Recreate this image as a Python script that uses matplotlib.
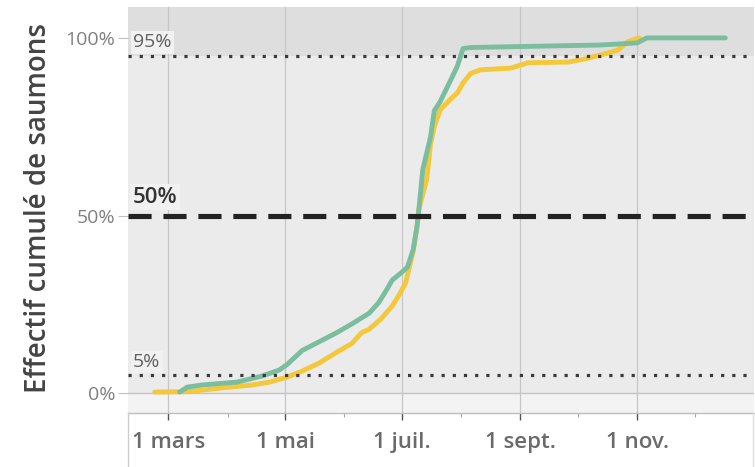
import matplotlib
matplotlib.use("Agg")
import matplotlib.pyplot as plt
from matplotlib.lines import Line2D
import datetime as dt

plt.rcParams['font.family'] = ['Open Sans', 'DejaVu Sans']

YEAR = 2021

# ---- data ----
green_dates = ["03-07", "03-11", "03-19", "04-06", "04-19", "04-28", "05-02", "05-10",
               "05-19", "05-28", "06-05", "06-14", "06-19", "06-23", "06-26", "07-01",
               "07-04", "07-07", "07-09", "07-10", "07-12", "07-16", "07-18", "07-21",
               "07-26", "07-30", "08-02", "08-06", "10-13", "11-01", "11-06", "12-17"]
green_pct = [0.3, 1.7, 2.3, 3.1, 4.8, 6.5, 8.0, 12.0,
             14.5, 17.0, 19.5, 22.5, 25.5, 29.0, 31.8, 34.0,
             35.5, 40.5, 47.0, 52.0, 63.0, 72.0, 79.5, 82.0,
             87.5, 92.0, 97.0, 97.3, 98.0, 98.6, 100.0, 100.0]

yellow_dates = ["02-22", "03-11", "03-28", "04-14", "04-23", "05-02", "05-10", "05-19",
                "05-28", "06-05", "06-10", "06-14", "06-20", "06-26", "06-30", "07-03",
                "07-07", "07-09", "07-10", "07-14", "07-16", "07-18", "07-21", "07-26",
                "07-30", "08-02", "08-06", "08-11", "08-27", "09-05", "09-26", "10-04",
                "10-13", "10-22", "10-27", "11-02"]
yellow_pct = [0.3, 0.4, 1.4, 2.3, 3.1, 4.5, 6.2, 8.5,
              11.5, 14.0, 17.0, 18.0, 20.8, 24.5, 28.0, 31.0,
              40.0, 47.0, 52.0, 60.0, 70.0, 75.0, 79.7, 82.5,
              84.5, 87.3, 90.0, 91.0, 91.5, 93.0, 93.2, 94.0,
              95.2, 96.6, 98.9, 100.0]

ref_levels = [5, 50, 95]
ref_labels = ["5%", "50%", "95%"]
ytick_vals = [0, 50, 100]
ytick_labels = ["0%", "50%", "100%"]
xtick_months = [3, 5, 7, 9, 11]
xtick_labels = ["1 mars", "1 mai", "1 juil.", "1 sept.", "1 nov."]
minor_months = [4, 6, 8, 10, 12]


def to_dates(lst):
    return [dt.datetime(YEAR, int(s[:2]), int(s[3:])) for s in lst]


W, H = 755, 467
fig = plt.figure(figsize=(W / 100, H / 100), dpi=100)
L, R, T, B = 128, 754, 7, 413
ax = fig.add_axes([L / W, 1 - B / H, (R - L) / W, (B - T) / H])

ymin, ymax = -5.6, 108.7
ax.set_ylim(ymin, ymax)
ax.set_xlim(dt.datetime(YEAR, 2, 8), dt.datetime(YEAR + 1, 1, 1))

ax.set_facecolor('#ebebeb')
ax.axhspan(95, ymax, color='#dedede', zorder=0, lw=0)
ax.axhspan(ymin, 0, color='#f3f3f3', zorder=0, lw=0)
ax.axhline(0, color='#c4c4c4', lw=1.0, zorder=1)

# vertical gridlines
for m in xtick_months:
    ax.axvline(dt.datetime(YEAR, m, 1), color='#c6c6c6', lw=0.9, zorder=1)

# curves
ax.plot(to_dates(yellow_dates), yellow_pct, color='#f3c83a', lw=3.5,
        solid_capstyle='round', solid_joinstyle='round', zorder=3)
ax.plot(to_dates(green_dates), green_pct, color='#7bbd9f', lw=3.5,
        solid_capstyle='round', solid_joinstyle='round', zorder=4)

# reference lines
ax.axhline(ref_levels[0], color='#3a3a3a', lw=2.3, ls=(0, (1.0, 2.5)), zorder=5)
ax.axhline(ref_levels[2], color='#3a3a3a', lw=2.3, ls=(0, (1.0, 2.5)), zorder=5)
ax.axhline(ref_levels[1], color='#222222', lw=3.7, ls=(0, (4.5, 2.3)), zorder=5)

box = dict(boxstyle='square,pad=0.12', fc='#f1f1f1', ec='none')
yt = ax.get_yaxis_transform()
ax.text(0.008, ref_levels[0] + 1.2, ref_labels[0], transform=yt,
        fontsize=14, color='#606060', ha='left', va='bottom', bbox=box, zorder=6)
ax.text(0.008, ref_levels[2] + 1.2, ref_labels[2], transform=yt,
        fontsize=14, color='#606060', ha='left', va='bottom', bbox=box, zorder=6)
ax.text(0.008, ref_levels[1] + 2.2, ref_labels[1], transform=yt,
        fontsize=16, color='#333333', ha='left', va='bottom', fontweight='semibold',
        bbox=box, zorder=6)

# y axis
ax.set_yticks(ytick_vals)
ax.set_yticklabels(ytick_labels)
ax.tick_params(axis='y', length=7, width=0.8, color='#c0c0c0', labelsize=14,
               labelcolor='#808080', pad=2)
ax.set_ylabel("Effectif cumulé de saumons", fontsize=20, color='#444444',
              fontweight='semibold')
ax.yaxis.set_label_coords(-(128 - 53) / (R - L), 0.505)

# x axis
ax.set_xticks([dt.datetime(YEAR, m, 1) for m in xtick_months])
ax.set_xticklabels(xtick_labels)
ax.set_xticks([dt.datetime(YEAR, m, 1) for m in minor_months], minor=True)
ax.tick_params(axis='x', which='major', length=5, width=1.0, color='#555555',
               labelsize=16, labelcolor='#6a6a6a', pad=9)
ax.tick_params(axis='x', which='minor', length=3, width=0.8, color='#aaaaaa')
for lab in ax.get_xticklabels():
    lab.set_fontweight('semibold')

for s in ['top', 'right', 'left']:
    ax.spines[s].set_visible(False)
ax.spines['bottom'].set_color('#bdbdbd')
ax.spines['bottom'].set_linewidth(1.0)

# frame lines of the axis strip below the panel
fig.add_artist(Line2D([L / W, L / W], [0, 1 - B / H], color='#cccccc', lw=1.0))
fig.add_artist(Line2D([(R - 1) / W, (R - 1) / W], [0, 1 - B / H], color='#dddddd', lw=1.0))

fig.savefig("out.png", dpi=100)
